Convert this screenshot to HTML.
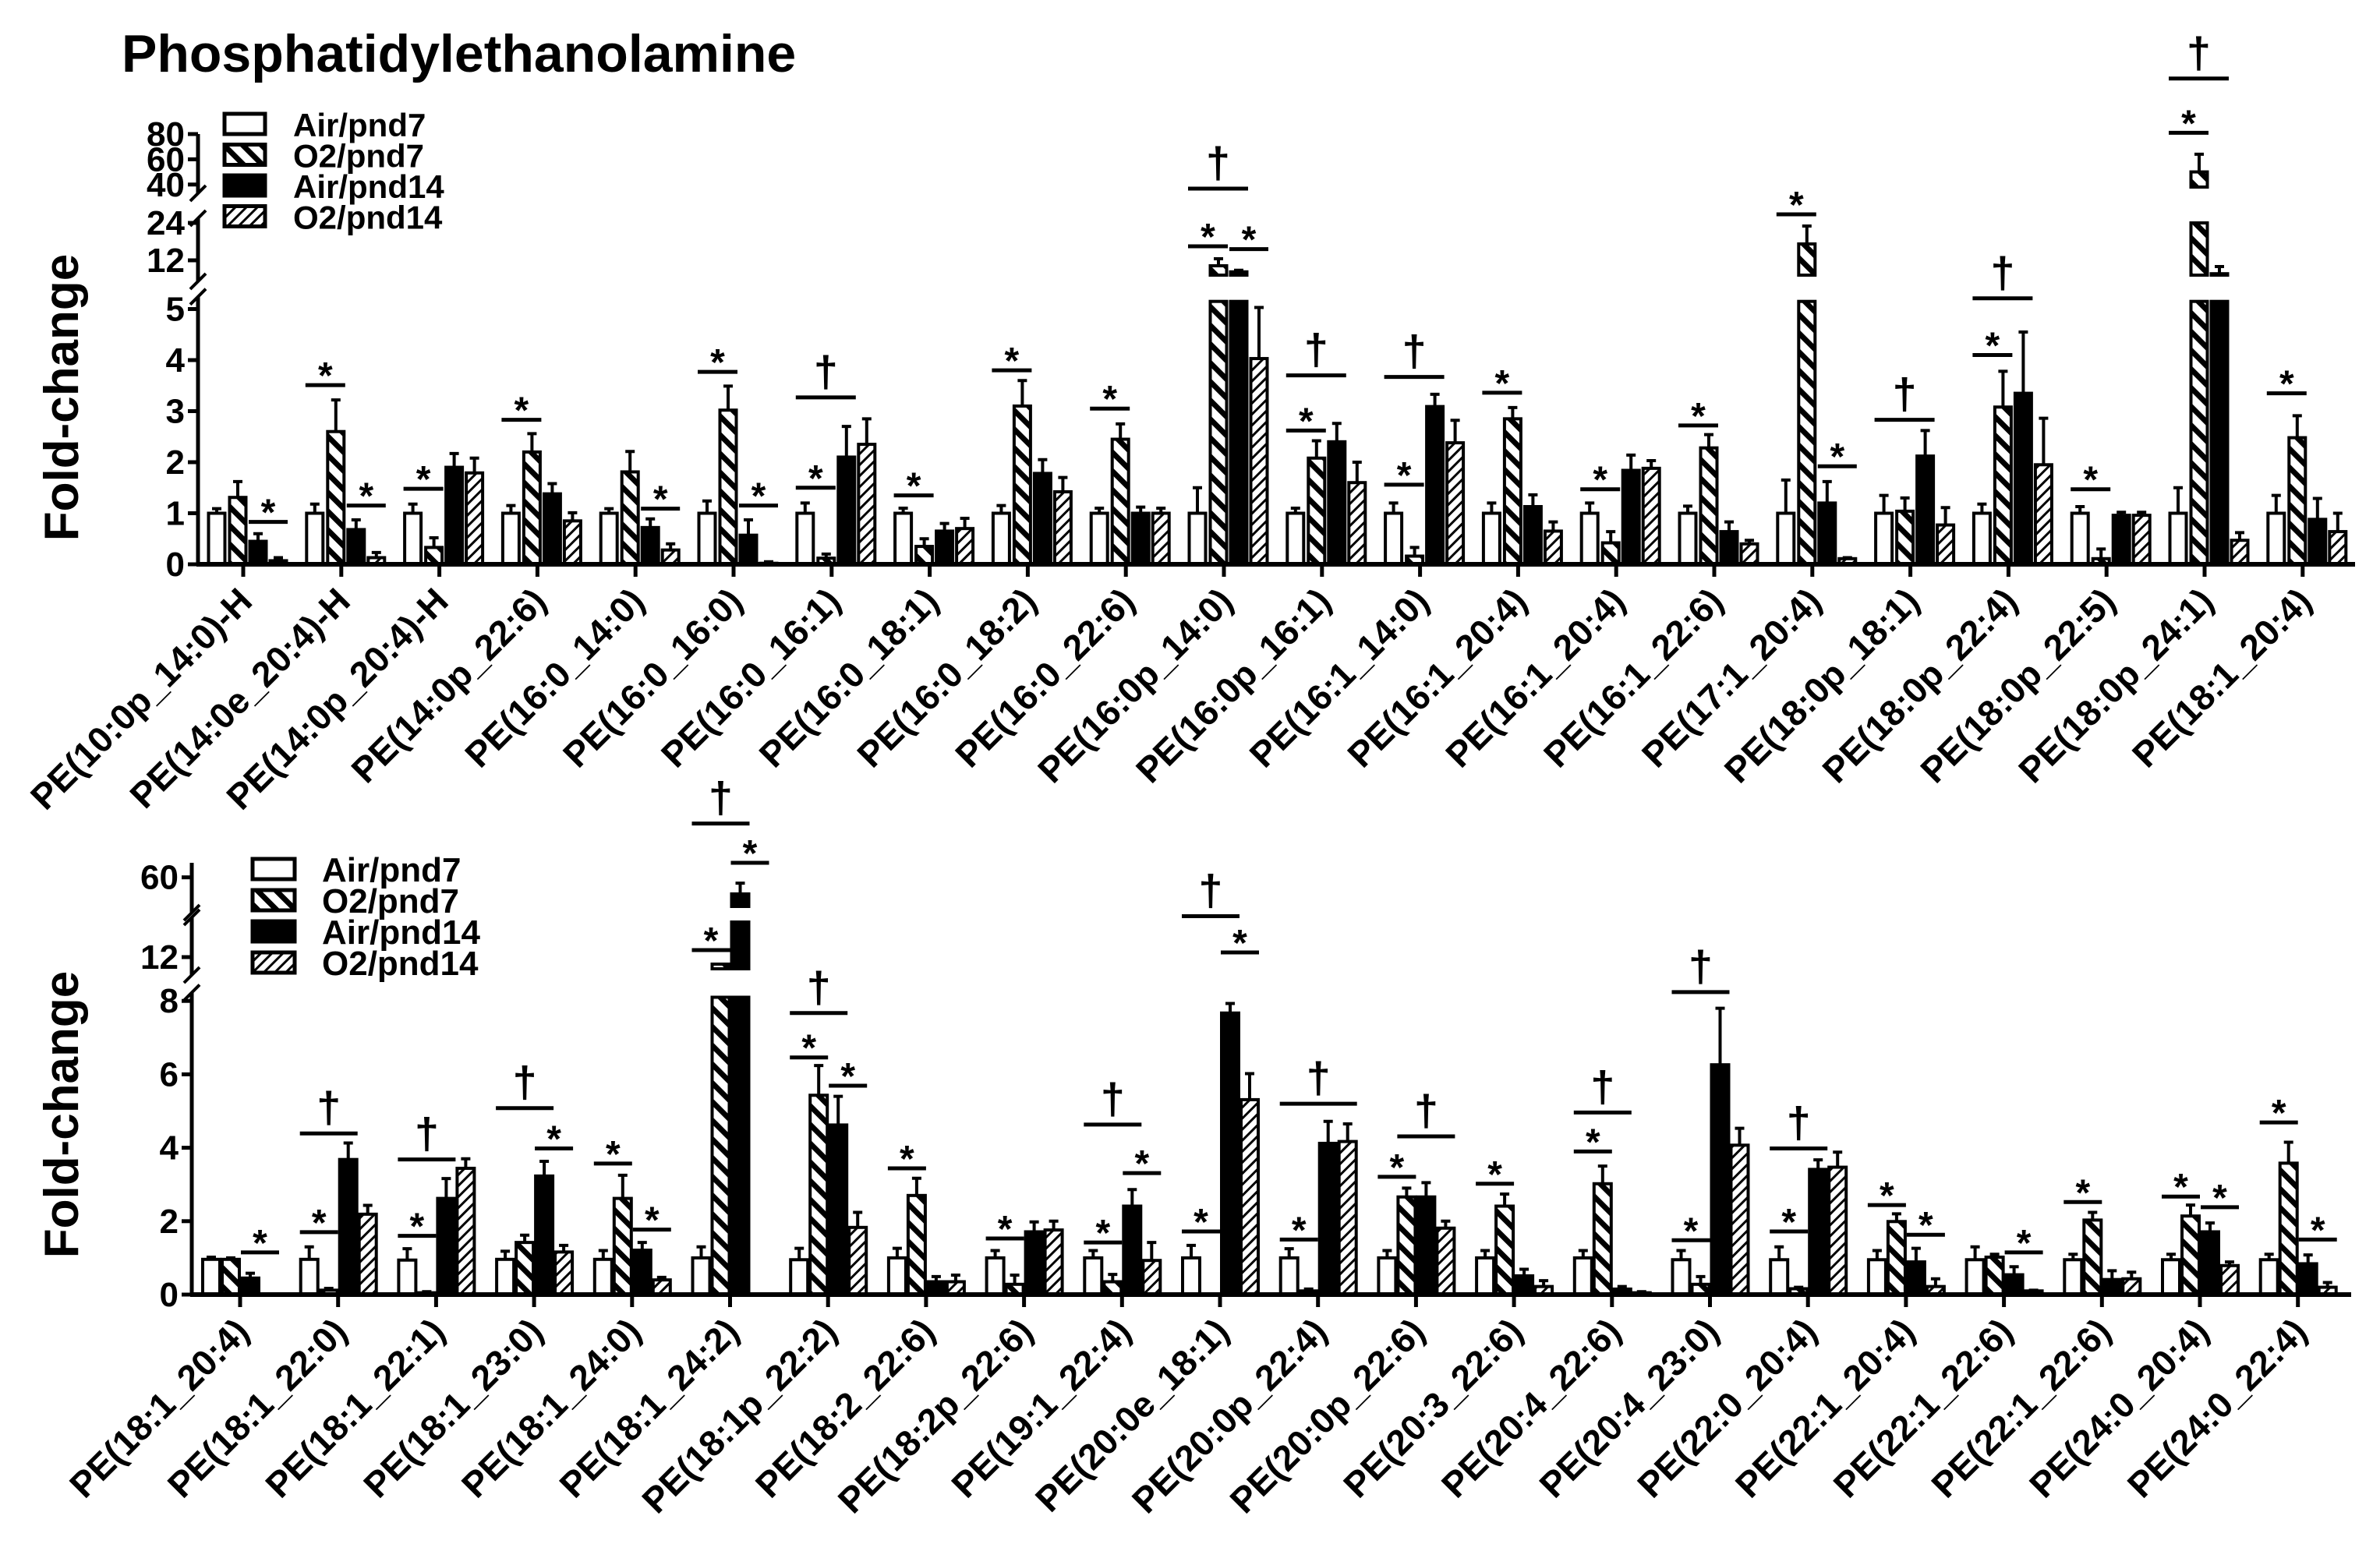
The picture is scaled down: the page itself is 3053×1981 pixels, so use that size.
<!DOCTYPE html>
<html><head><meta charset="utf-8"><style>
html,body{margin:0;padding:0;background:#fff;}
svg{display:block;font-family:"Liberation Sans",Arial,sans-serif;font-weight:bold;}
</style></head>
<body>
<svg id="chart" width="3053" height="1981" viewBox="0 0 3053 1981" xmlns="http://www.w3.org/2000/svg">
<defs>
<pattern id="hatch7" patternUnits="userSpaceOnUse" width="17" height="17" patternTransform="rotate(-45)">
<rect width="17" height="17" fill="#fff"/><rect x="0" y="0" width="7" height="17" fill="#000"/></pattern>
<pattern id="hatch14" patternUnits="userSpaceOnUse" width="10" height="10" patternTransform="rotate(45)">
<rect width="10" height="10" fill="#fff"/><rect x="0" y="0" width="3" height="10" fill="#000"/></pattern>
</defs>
<text x="156" y="92" font-size="68">Phosphatidylethanolamine</text>
<g id="top"></g>
<g id="bottom"></g>
</svg>
<script>
// ---- Top panel data ----
const topCats = ["PE(10:0p_14:0)-H","PE(14:0e_20:4)-H","PE(14:0p_20:4)-H","PE(14:0p_22:6)","PE(16:0_14:0)","PE(16:0_16:0)","PE(16:0_16:1)","PE(16:0_18:1)","PE(16:0_18:2)","PE(16:0_22:6)","PE(16:0p_14:0)","PE(16:0p_16:1)","PE(16:1_14:0)","PE(16:1_20:4)","PE(16:1_20:4)","PE(16:1_22:6)","PE(17:1_20:4)","PE(18:0p_18:1)","PE(18:0p_22:4)","PE(18:0p_22:5)","PE(18:0p_24:1)","PE(18:1_20:4)"];
const topAir7 = [1,1,1,1,1,1,1,1,1,1,1,1,1,1,1,1,1,1,1,1,1,1];
const topAir7Err = [1.09,1.18,1.18,1.15,1.09,1.24,1.2,1.1,1.15,1.1,1.5,1.1,1.2,1.2,1.2,1.14,1.65,1.35,1.18,1.13,1.5,1.35];
const topO27 = [1.31,2.6,0.33,2.2,1.81,3.02,0.12,0.35,3.1,2.45,10.25,2.08,0.16,2.85,0.42,2.28,17.25,1.04,3.08,0.11,50,2.48];
const topO27Err = [1.62,3.22,0.52,2.56,2.21,3.49,0.2,0.5,3.6,2.75,12.5,2.42,0.33,3.07,0.64,2.54,23,1.3,3.78,0.3,64,2.91];
const topAir14 = [0.45,0.68,1.9,1.38,0.72,0.57,2.1,0.65,1.78,1.0,8.3,2.4,3.09,1.13,1.84,0.64,1.2,2.12,3.35,0.96,7.7,0.88];
const topAir14Err = [0.6,0.87,2.17,1.58,0.89,0.87,2.7,0.8,2.05,1.12,8.8,2.76,3.33,1.36,2.14,0.83,1.62,2.62,4.55,1.02,10,1.29];
const topO214 = [0.07,0.13,1.79,0.85,0.28,0.02,2.35,0.7,1.42,1.0,4.03,1.6,2.38,0.65,1.88,0.4,0.11,0.77,1.95,0.96,0.47,0.64];
const topO214Err = [0.13,0.23,2.08,1.01,0.4,0.05,2.85,0.9,1.7,1.1,5.03,2.0,2.82,0.83,2.03,0.47,0.13,1.11,2.86,1.02,0.62,1.0];
const topTicks = [0,1,2,3,4,5,12,24,40,60,80];
const topSig = [[0,'*',2,3,0.83],[1,'*',0,1,3.51],[1,'*',2,3,1.15],[2,'*',0,1,1.48],[3,'*',0,1,2.83],[4,'*',2,3,1.09],[5,'*',0,1,3.77],[5,'*',2,3,1.15],[6,'*',0,1,1.5],[6,'†',0,2,3.27],[7,'*',0,1,1.35],[8,'*',0,1,3.8],[9,'*',0,1,3.05],[10,'*',0,1,16.5],[10,'*',2,3,15.6],[10,'†',0,2,35],[11,'*',0,1,2.62],[11,'†',0,2,3.7],[12,'*',0,1,1.56],[12,'†',0,2,3.67],[13,'*',0,1,3.36],[14,'*',0,1,1.47],[15,'*',0,1,2.72],[16,'*',0,1,26.75],[16,'*',2,3,1.92],[17,'†',0,2,2.83],[18,'*',0,1,4.1],[18,'†',0,2,5.21],[19,'*',0,1,1.47],[20,'*',0,1,81],[20,'†',0,2,124],[21,'*',0,1,3.35]];

// ---- Bottom panel data ----
const botCats = ["PE(18:1_20:4)","PE(18:1_22:0)","PE(18:1_22:1)","PE(18:1_23:0)","PE(18:1_24:0)","PE(18:1_24:2)","PE(18:1p_22:2)","PE(18:2_22:6)","PE(18:2p_22:6)","PE(19:1_22:4)","PE(20:0e_18:1)","PE(20:0p_22:4)","PE(20:0p_22:6)","PE(20:3_22:6)","PE(20:4_22:6)","PE(20:4_23:0)","PE(22:0_20:4)","PE(22:1_20:4)","PE(22:1_22:6)","PE(22:1_22:6)","PE(24:0_20:4)","PE(24:0_22:4)"];
const botAir7 = [0.96,0.96,0.94,0.96,0.96,1.0,0.95,1.0,1.0,1.0,1.0,1.0,1.0,1.0,1.0,0.95,0.95,0.95,0.95,0.95,0.95,0.95];
const botAir7Err = [1.02,1.3,1.25,1.18,1.2,1.3,1.26,1.26,1.2,1.2,1.34,1.25,1.2,1.2,1.2,1.2,1.3,1.2,1.3,1.1,1.1,1.1];
const botO27 = [0.96,0.12,0.05,1.42,2.62,11.4,5.43,2.7,0.28,0.35,0.02,0.1,2.66,2.41,3.02,0.28,0.16,1.99,1.02,2.03,2.14,3.58];
const botO27Err = [1.0,0.17,0.08,1.62,3.25,11.4,6.24,3.17,0.53,0.55,0.02,0.15,2.9,2.74,3.5,0.49,0.2,2.2,1.1,2.24,2.44,4.15];
const botAir14 = [0.45,3.68,2.62,3.23,1.21,48.6,4.62,0.35,1.71,2.41,7.67,4.12,2.66,0.51,0.15,6.26,3.41,0.89,0.54,0.41,1.71,0.84];
const botAir14Err = [0.58,4.13,3.16,3.63,1.42,56,5.4,0.49,1.98,2.86,7.93,4.72,3.05,0.69,0.22,7.8,3.67,1.26,0.76,0.65,1.95,1.08];
const botO214 = [0.01,2.19,3.44,1.16,0.4,0,1.83,0.35,1.76,0.93,5.31,4.17,1.81,0.22,0.05,4.07,3.47,0.22,0.1,0.43,0.79,0.2];
const botO214Err = [0.02,2.43,3.7,1.34,0.47,0,2.24,0.53,2.0,1.42,6.02,4.65,2.0,0.38,0.08,4.53,3.88,0.43,0.12,0.61,0.89,0.33];
const botTicks = [0,2,4,6,8,12,60];
const botSig = [[0,'*',2,3,1.15],[1,'*',0,1,1.7],[1,'†',0,2,4.39],[2,'*',0,1,1.6],[2,'†',0,2,3.68],[3,'†',0,2,5.08],[3,'*',2,3,3.98],[4,'*',0,1,3.57],[4,'*',2,3,1.77],[5,'*',0,1,12.6],[5,'†',0,2,97],[5,'*',2,3,70],[6,'*',0,1,6.46],[6,'*',2,3,5.69],[6,'†',0,2,7.67],[7,'*',0,1,3.44],[8,'*',0,1,1.53],[9,'*',0,1,1.42],[9,'*',2,3,3.31],[9,'†',0,2,4.63],[10,'*',0,1,1.72],[10,'*',2,3,12.4],[10,'†',0,2,15.5],[11,'*',0,1,1.5],[11,'†',0,3,5.2],[12,'*',0,1,3.21],[12,'†',1,3,4.31],[13,'*',0,1,3.02],[14,'*',0,1,3.9],[14,'†',0,2,4.96],[15,'*',0,1,1.48],[15,'†',0,2,8.24],[16,'*',0,1,1.72],[16,'†',0,2,3.98],[17,'*',0,1,2.44],[17,'*',2,3,1.63],[18,'*',2,3,1.15],[19,'*',0,1,2.52],[20,'*',0,1,2.67],[20,'*',2,3,2.38],[21,'*',0,1,4.69],[21,'*',2,3,1.5]];

const NS = "http://www.w3.org/2000/svg";
function mk(parent, tag, attrs){ const e=document.createElementNS(NS,tag); for(const k in attrs) e.setAttribute(k,attrs[k]); parent.appendChild(e); return e; }
const fills = ["#fff","url(#hatch7)","#000","url(#hatch14)"];
const seriesNames = ["air-pnd7","o2-pnd7","air-pnd14","o2-pnd14"];
const legendLabels = ["Air/pnd7","O2/pnd7","Air/pnd14","O2/pnd14"];

function drawPanel(g, cfg){
  const segs = cfg.segs;
  function segMap(s, v){ return s.p0 - (v - s.d0) * (s.p0 - s.p1) / (s.d1 - s.d0); }
  function y(v){ let s = segs[0]; for(const t of segs){ if(v >= t.d0) s = t; } return segMap(s, v); }
  const xT = i => cfg.tick0 + i * cfg.step;
  const bx = (i,k) => xT(i) + cfg.offs[k];
  const series = cfg.series, errs = cfg.errs;
  cfg.cats.forEach((c,i)=>{
    for(let k=0;k<4;k++){
      const v = series[k][i], cx = bx(i,k), w = cfg.bw;
      segs.forEach((s,si)=>{
        if(v <= s.d0 && si>0) return;
        const bot = si===0 ? cfg.base : s.p0;
        const top = segMap(s, Math.min(v, s.d1));
        if(bot - top < 0.5 && si>0) return;
        const r = mk(g,'rect',{x:cx-w/2,y:top,width:w,height:Math.max(0,bot-top),fill:fills[k],stroke:'#000','stroke-width':4});
        
        
      });
      const e = errs[k][i];
      if(e > v + 0.005){
        const y1 = y(v), y2 = y(e);
        const el = mk(g,'path',{d:`M${cx} ${y1}V${y2}M${cx-6} ${y2}H${cx+6}`,stroke:'#000','stroke-width':4,fill:'none'});
        
        
      }
    }
  });
  const ax = cfg.axisX;
  segs.forEach((s,si)=>{
    const yb = si===0 ? cfg.base : s.p0 + 8, yt = s.p1 - (si===segs.length-1 ? 0 : 6);
    const l = mk(g,'line',{x1:ax,y1:yb,x2:ax,y2:yt,stroke:'#000','stroke-width':5});
    
    
    if(si < segs.length-1){
      mk(g,'line',{x1:ax-10,y1:yt+10,x2:ax+10,y2:yt-10,stroke:'#000','stroke-width':4});
    }
    if(si > 0){
      mk(g,'line',{x1:ax-10,y1:yb+10,x2:ax+10,y2:yb-10,stroke:'#000','stroke-width':4});
    }
  });
  cfg.ticks.forEach(t=>{
    const yy = y(t);
    mk(g,'line',{x1:ax-13,y1:yy,x2:ax,y2:yy,stroke:'#000','stroke-width':5});
    const tx = mk(g,'text',{x:ax-17,y:yy+15,'font-size':44,'text-anchor':'end'});
    tx.textContent = t;
    
    
  });
  const bl = mk(g,'line',{x1:ax-2,y1:cfg.base,x2:cfg.axisEnd,y2:cfg.base,stroke:'#000','stroke-width':6});
  
  
  cfg.cats.forEach((c,i)=>{
    const x = xT(i);
    mk(g,'line',{x1:x,y1:cfg.base,x2:x,y2:cfg.base+16,stroke:'#000','stroke-width':5});
    const px = x+14, py = cfg.base+50;
    const t = mk(g,'text',{x:px,y:py,'font-size':46,'text-anchor':'end',transform:`rotate(-45 ${px} ${py})`});
    t.textContent = c;
    
    
  });
  cfg.sig.forEach(s=>{
    const [gi,sym,a,b,lv] = s;
    const yy = y(lv), x1 = bx(gi,a)-12, x2 = bx(gi,b)+12, xm = (x1+x2)/2;
    const ln = mk(g,'line',{x1:x1,y1:yy,x2:x2,y2:yy,stroke:'#000','stroke-width':5});
    
    
    const t = mk(g,'text',{x:xm,y: sym==='*' ? yy+4 : yy-14,'font-size': sym==='*'?48:56,'text-anchor':'middle'});
    t.textContent = sym;
    
    
  });
  const yl = mk(g,'text',{x:cfg.ylabX,y:cfg.ylabY,'font-size':62,'text-anchor':'middle',transform:`rotate(-90 ${cfg.ylabX} ${cfg.ylabY})`});
  yl.textContent = 'Fold-change';
  
  
  const lg = mk(g,'g',{});
  
  
  for(let k=0;k<4;k++){
    const yy = cfg.legY + k*cfg.legPitch;
    const r = mk(lg,'rect',{x:cfg.legX,y:yy,width:cfg.legW,height:26,fill:fills[k],stroke:'#000','stroke-width':5});
    
    
    const t = mk(lg,'text',{x:cfg.legTX,y:yy+29,'font-size':cfg.legFont});
    t.textContent = legendLabels[k];
    
    
  }
}

const gTop = document.getElementById('top');


drawPanel(gTop, {
  cats: topCats, series:[topAir7,topO27,topAir14,topO214], errs:[topAir7Err,topO27Err,topAir14Err,topO214Err],
  ticks: topTicks, sig: topSig,
  segs:[{d0:0,d1:5.15,p0:724,p1:386.7},{d0:7.25,d1:24,p0:353,p1:286},{d0:38,d1:80,p0:240,p1:172}],
  base:724, axisX:254, axisEnd:3021, tick0:312, step:125.8, offs:[-34,-7,19,45], bw:21,
  ylabX:100, ylabY:510, legX:288, legY:146, legPitch:39.5, legW:52, legTX:376, legFont:42
});
const gBot = document.getElementById('bottom');


drawPanel(gBot, {
  cats: botCats, series:[botAir7,botO27,botAir14,botO214], errs:[botAir7Err,botO27Err,botAir14Err,botO214Err],
  ticks: botTicks, sig: botSig,
  segs:[{d0:0,d1:8.1,p0:1661,p1:1279.5},{d0:11,d1:15,p0:1243,p1:1183},{d0:40,d1:70,p0:1163,p1:1107}],
  base:1661, axisX:246, axisEnd:3016, tick0:308, step:125.7, offs:[-37,-12,13,38], bw:22,
  ylabX:100, ylabY:1430, legX:324, legY:1102, legPitch:40, legW:54, legTX:413, legFont:44
});
</script>
</body></html>
